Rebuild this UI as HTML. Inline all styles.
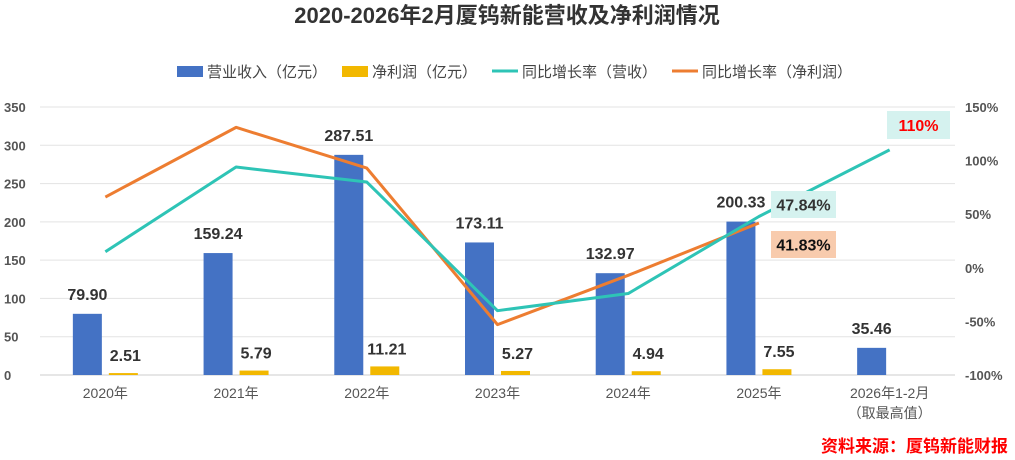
<!DOCTYPE html>
<html><head><meta charset="utf-8"><style>
body{margin:0;background:#fff;}
svg{display:block;font-family:"Liberation Sans","Noto Sans CJK SC",sans-serif;}
</style></head><body>
<svg id="chart" width="1015" height="460" viewBox="0 0 1015 460">
<text x="507" y="23" text-anchor="middle" font-size="22" font-weight="bold" fill="#333">2020-2026年2月厦钨新能营收及净利润情况</text>
<g id="legend">
<rect x="177" y="66" width="26" height="11" fill="#4472C4"/>
<text x="207" y="77" font-size="15" fill="#444">营业收入（亿元）</text>
<rect x="342" y="66" width="26" height="11" fill="#F2B800"/>
<text x="372" y="77" font-size="15" fill="#444">净利润（亿元）</text>
<line x1="492" y1="71" x2="518" y2="71" stroke="#2EC4B6" stroke-width="3"/>
<text x="522" y="77" font-size="15" fill="#444">同比增长率（营收）</text>
<line x1="672" y1="71" x2="698" y2="71" stroke="#ED7D31" stroke-width="3"/>
<text x="702" y="77" font-size="15" fill="#444">同比增长率（净利润）</text>
</g>
<g id="grid"></g><g id="bars"></g><g id="lines"></g><g id="labels"></g>
<text x="1008" y="452" text-anchor="end" font-size="17" font-weight="bold" fill="#F00">资料来源：厦钨新能财报</text>
</svg>
<script>
const categories=["2020年","2021年","2022年","2023年","2024年","2025年","2026年1-2月"];
const revenue=[79.90,159.24,287.51,173.11,132.97,200.33,35.46];
const profit=[2.51,5.79,11.21,5.27,4.94,7.55,null];
const revGrowth=[15,94,80,-40,-24,47.84,110];
const profitGrowth=[66,131,93,-53,-7,41.83,null];
const leftTicks=[0,50,100,150,200,250,300,350];
const rightTicks=[-100,-50,0,50,100,150];
const NS="http://www.w3.org/2000/svg";
const x0=40,x1=955,yTop=107,yBot=375;
const yL=v=>yBot-(v/350)*(yBot-yTop);
const yR=v=>yBot-((v+100)/250)*(yBot-yTop);
const step=(x1-x0)/categories.length;
const xC=i=>x0+step*(i+0.5);
function mk(tag,attrs,parent,text){const e=document.createElementNS(NS,tag);for(const k in attrs)e.setAttribute(k,attrs[k]);if(text!=null)e.textContent=text;document.getElementById(parent).appendChild(e);return e;}
leftTicks.forEach(t=>{
 const l=mk('line',{x1:x0,x2:x1,y1:yL(t),y2:yL(t),stroke:t===0?'#ccc':'#e3e3e3','stroke-width':1},'grid');
 
 
 const tx=mk('text',{x:4,y:yL(t)+5,'font-size':13,'font-weight':'bold',fill:'#555'},'grid',t);
 
 
});
rightTicks.forEach(t=>{
 const tx=mk('text',{x:965,y:yR(t)+5,'font-size':13,'font-weight':'bold',fill:'#555'},'grid',t+'%');
 
 
});
categories.forEach((c,i)=>{
 const lines=c==="2026年1-2月"?[c,"（取最高值）"]:[c];
 lines.forEach((s,j)=>{const tx=mk('text',{x:xC(i),y:398+j*20,'text-anchor':'middle','font-size':14,fill:'#555'},'labels',s);
 
 });
 const bw=29;
 const r=mk('rect',{x:xC(i)-18-bw/2,y:yL(revenue[i]),width:bw,height:yBot-yL(revenue[i]),fill:'#4472C4'},'bars');
 
 
 const lr=mk('text',{x:xC(i)-18,y:yL(revenue[i])-14,'text-anchor':'middle','font-size':16,'font-weight':'bold',fill:'#333'},'labels',revenue[i].toFixed(2));
 
 
 if(profit[i]!=null){
  const p=mk('rect',{x:xC(i)+18-bw/2,y:yL(profit[i]),width:bw,height:yBot-yL(profit[i]),fill:'#F2B800'},'bars');
  
  
  const lp=mk('text',{x:xC(i)+20,y:yL(profit[i])-12,'text-anchor':'middle','font-size':16,'font-weight':'bold',fill:'#333'},'labels',profit[i].toFixed(2));
  
  
 }
});
function poly(arr,color,name){const pts=arr.map((v,i)=>v==null?null:xC(i)+','+yR(v)).filter(Boolean).join(' ');
 const p=mk('polyline',{points:pts,fill:'none',stroke:color,'stroke-width':3,'stroke-linejoin':'round'},'lines');
 
 }
poly(profitGrowth,'#ED7D31','line-profit-growth');
poly(revGrowth,'#2EC4B6','line-revenue-growth');
function box(x,y,w,h,bg,txt,color,name){
 const b=mk('rect',{x:x,y:y,width:w,height:h,fill:bg},'labels');
 
 
 const t=mk('text',{x:x+w/2,y:y+h/2+6,'text-anchor':'middle','font-size':16,'font-weight':'bold',fill:color},'labels',txt);
 
 }
box(771,191,65,27,'#D5F2EF',revGrowth[5]+'%','#333','rev-growth-2025-label');
box(771,231,65,27,'#F8CBAD',profitGrowth[5]+'%','#111','profit-growth-2025-label');
box(887,111,63,28,'#D5F2EF',revGrowth[6]+'%','#F00','rev-growth-2026-label');
</script>
</body></html>
